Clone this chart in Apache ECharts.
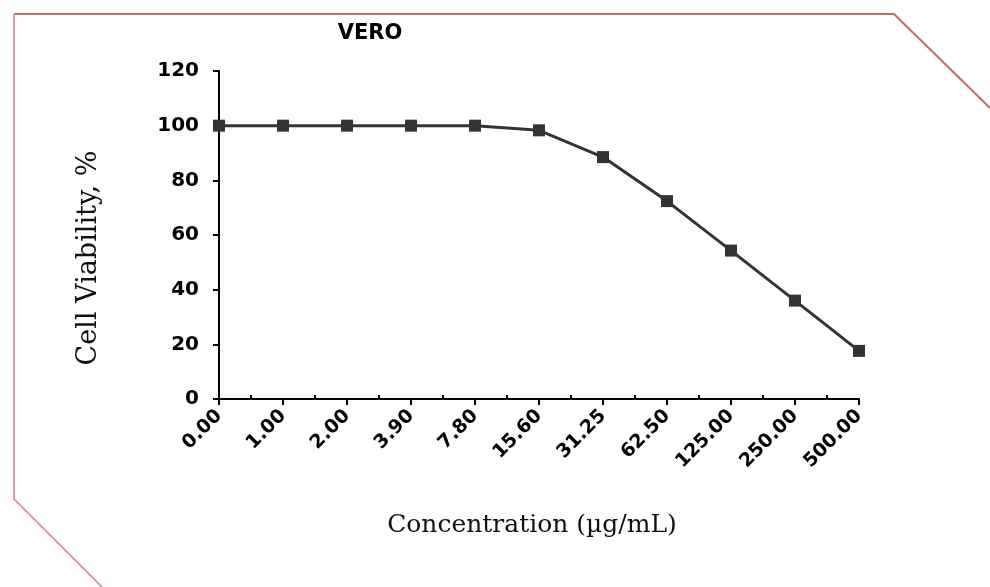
<!DOCTYPE html>
<html>
<head>
<meta charset="utf-8">
<script src="https://cdn.jsdelivr.net/npm/echarts@6/dist/echarts.min.js"></script>
<style>
  html, body { margin: 0; padding: 0; background: #ffffff; }
  #chart { width: 990px; height: 587px; }
</style>
</head>
<body>
<div id="chart"></div>
<script>
// Concentrations tested (µg/mL) and VERO cell viability (%)
const concentrations = ['0.00', '1.00', '2.00', '3.90', '7.80', '15.60', '31.25', '62.50', '125.00', '250.00', '500.00'];
const viability = [100, 100, 100, 100, 100, 98.3, 88.5, 72.4, 54.3, 36, 17.6];
const yTicks = [0, 20, 40, 60, 80, 100, 120];

const chart = echarts.init(document.getElementById('chart'), null, { renderer: 'canvas' });

const sansFamily = "'DejaVu Sans', 'Liberation Sans', Arial, sans-serif";
const sansBold = { fontFamily: sansFamily, fontWeight: 'bold', color: '#000' };
const serifFont = "'DejaVu Serif', 'Liberation Serif', serif";

chart.setOption({
  backgroundColor: '#ffffff',
  animation: false,
  grid: { left: 219, right: 131, top: 71, bottom: 188, containLabel: false },
  xAxis: [
    {
      type: 'category',
      data: concentrations,
      boundaryGap: false,
      axisLine: { show: true, lineStyle: { color: '#000', width: 2 } },
      axisTick: { show: true, alignWithLabel: true, inside: false, length: 6, lineStyle: { color: '#000', width: 2 } },
      axisLabel: Object.assign({ rotate: 45, fontSize: 19, margin: 14, interval: 0 }, sansBold),
      splitLine: { show: false }
    },
    {
      // companion axis supplying the short inward ticks between categories
      type: 'value',
      min: 0,
      max: concentrations.length - 1,
      interval: 1,
      position: 'bottom',
      axisLine: { show: false },
      axisLabel: { show: false },
      axisTick: { show: true, inside: true, length: 0.01, lineStyle: { color: '#000', width: 1 } },
      minorTick: { show: true, splitNumber: 2, length: 4, lineStyle: { color: '#000', width: 2 } },
      splitLine: { show: false },
      minorSplitLine: { show: false }
    }
  ],
  yAxis: {
    type: 'value',
    min: yTicks[0],
    max: yTicks[yTicks.length - 1],
    interval: 20,
    axisLine: { show: true, lineStyle: { color: '#000', width: 2 } },
    axisTick: { show: true, inside: false, length: 6, lineStyle: { color: '#000', width: 2 } },
    axisLabel: Object.assign({ fontSize: 20, margin: 20 }, sansBold),
    splitLine: { show: false }
  },
  series: [{
    type: 'line',
    xAxisIndex: 0,
    data: viability,
    symbol: 'rect',
    symbolSize: 12,
    z: 5,
    lineStyle: { color: '#333', width: 3 },
    itemStyle: { color: '#333' }
  }],
  graphic: [
    {
      type: 'polyline',
      shape: { points: [[14, 14], [894, 14], [990, 108]] },
      style: { stroke: '#c86a6a', lineWidth: 2, fill: null }
    },
    {
      type: 'polyline',
      shape: { points: [[14, 14], [14, 499], [102, 587]] },
      style: { stroke: '#dea0a0', lineWidth: 2, fill: null }
    },
    {
      type: 'text',
      x: 370, y: 34,
      style: {
        text: 'VERO', align: 'center', verticalAlign: 'middle',
        font: "bold 21px " + sansFamily, fill: '#000'
      }
    },
    {
      type: 'text',
      x: 532, y: 525,
      style: {
        text: 'Concentration (µg/mL)', align: 'center', verticalAlign: 'middle',
        font: "25px " + serifFont, fill: '#111'
      }
    },
    {
      type: 'text',
      x: 89, y: 258,
      rotation: Math.PI / 2,
      style: {
        text: 'Cell Viability, %', align: 'center', verticalAlign: 'middle',
        font: "27px " + serifFont, fill: '#111'
      }
    }
  ]
});
</script>
</body>
</html>
